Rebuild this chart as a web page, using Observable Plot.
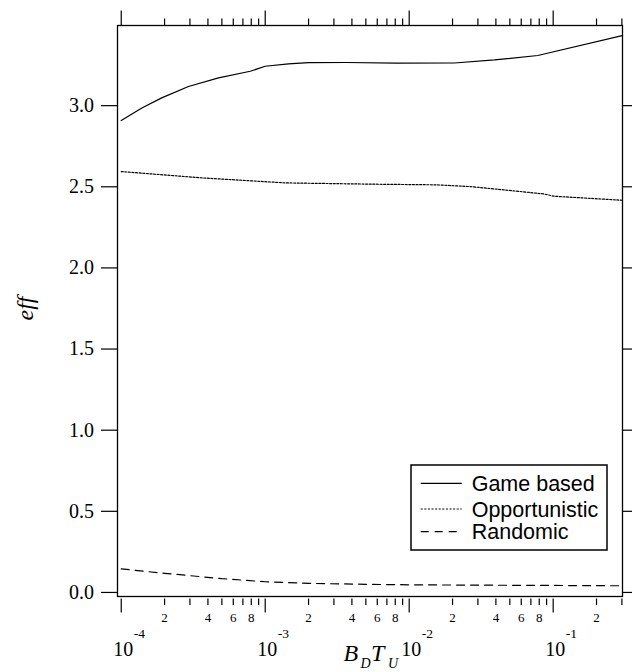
<!DOCTYPE html>
<html>
<head>
<meta charset="utf-8">
<script src="https://cdn.jsdelivr.net/npm/d3@7"></script>
<script src="https://cdn.jsdelivr.net/npm/@observablehq/plot@0.6"></script>
<style>
  body { margin: 0; background: #fff; }
  #wrap { position: relative; width: 635px; height: 672px; overflow: hidden; }
  #wrap > svg { position: absolute; left: 0; top: 0; }
</style>
</head>
<body>
<div id="wrap"></div>
<script>
// ---- data ----
const seriesNames = ["Game based", "Opportunistic", "Randomic"];

const gameX = [1e-4, 1.39e-4, 1.91e-4, 2.93e-4, 4.74e-4, 7.87e-4, 1e-3, 1.45e-3, 2e-3, 3.67e-3, 8.2e-3, 0.0206, 0.0391, 0.0782, 0.301];
const gameY = [2.908, 2.986, 3.048, 3.118, 3.171, 3.212, 3.243, 3.257, 3.265, 3.266, 3.262, 3.263, 3.282, 3.309, 3.432];

const oppX = [1e-4, 3.63e-4, 1.38e-3, 5.65e-3, 0.0156, 0.0267, 0.0454, 0.0861, 0.101, 0.301];
const oppY = [2.594, 2.555, 2.524, 2.516, 2.512, 2.501, 2.481, 2.456, 2.442, 2.417];

const randX = [1e-4, 2e-4, 5e-4, 1e-3, 2e-3, 5e-3, 1e-2, 3e-2, 0.1, 0.301];
const randY = [0.145, 0.118, 0.085, 0.066, 0.056, 0.050, 0.047, 0.045, 0.043, 0.041];

// ---- ticks ----
const yTicks = [0, 0.5, 1.0, 1.5, 2.0, 2.5, 3.0];
const xMajor = [1e-4, 1e-3, 1e-2, 1e-1];
const xMajorBase = ["10", "10", "10", "10"];
const xMajorExp = ["-4", "-3", "-2", "-1"];
const xMinor = [2e-4, 3e-4, 4e-4, 5e-4, 6e-4, 7e-4, 8e-4, 9e-4,
                2e-3, 3e-3, 4e-3, 5e-3, 6e-3, 7e-3, 8e-3, 9e-3,
                2e-2, 3e-2, 4e-2, 5e-2, 6e-2, 7e-2, 8e-2, 9e-2,
                2e-1, 3e-1];
const xMinorLabelValues = [2e-4, 4e-4, 6e-4, 8e-4, 2e-3, 4e-3, 6e-3, 8e-3, 2e-2, 4e-2, 6e-2, 8e-2, 2e-1];
const xMinorLabelTexts = ["2", "4", "6", "8", "2", "4", "6", "8", "2", "4", "6", "8", "2"];

const toRows = (xs, ys) => xs.map((x, i) => ({x, y: ys[i]}));
const game = toRows(gameX, gameY);
const opp = toRows(oppX, oppY);
const rand = toRows(randX, randY);

const serif = "Liberation Serif, Times New Roman, serif";
const sans = "Liberation Sans, Arial, Helvetica, sans-serif";
const lineStyles = [
  {strokeDasharray: null},
  {strokeDasharray: "2,1.6"},
  {strokeDasharray: "8,6"}
];
const lw = 1.2;

const chart = Plot.plot({
  width: 635,
  height: 672,
  marginLeft: 117,
  marginRight: 13,
  marginTop: 25,
  marginBottom: 76,
  style: {fontFamily: serif, color: "black", background: "white"},
  x: {type: "log", domain: [0.942e-4, 0.303], label: null},
  y: {domain: [-0.025, 3.494], label: null},
  marks: [
    // data lines
    Plot.line(game, {x: "x", y: "y", stroke: "black", strokeWidth: lw}),
    Plot.line(opp, {x: "x", y: "y", stroke: "black", strokeWidth: lw, strokeDasharray: lineStyles[1].strokeDasharray}),
    Plot.line(rand, {x: "x", y: "y", stroke: "black", strokeWidth: lw, strokeDasharray: lineStyles[2].strokeDasharray}),
    Plot.frame({stroke: "black", strokeWidth: 1.3}),
    // left y axis
    Plot.axisY(yTicks, {anchor: "left", tickSize: 16, tickPadding: 7.5, strokeWidth: lw, stroke: "black",
      tickFormat: d3.format(".1f"), fontSize: 20, fontFamily: serif, label: null}),
    // right y ticks
    Plot.axisY(yTicks, {anchor: "right", tickSize: 9, strokeWidth: lw, stroke: "black", fill: "none", label: null}),
    // top ticks
    Plot.axisX(xMajor, {anchor: "top", tickSize: 15.5, strokeWidth: lw, stroke: "black", fill: "none", label: null}),
    Plot.axisX(xMinor, {anchor: "top", tickSize: 7.5, strokeWidth: lw, stroke: "black", fill: "none", label: null}),
    // bottom ticks (slightly detached from the frame)
    Plot.axisX(xMajor, {anchor: "bottom", tickSize: 14, dy: 2.5, strokeWidth: lw, stroke: "black", fill: "none", label: null}),
    Plot.axisX(xMinor, {anchor: "bottom", tickSize: 6.5, dy: 2.5, strokeWidth: lw, stroke: "black", fill: "none", label: null}),
    // bottom minor labels
    Plot.text(xMinorLabelValues, {x: d => d, frameAnchor: "bottom", text: (d, i) => xMinorLabelTexts[i],
      lineAnchor: "bottom", textAnchor: "middle", dy: 25, fontSize: 13, fontFamily: serif, fill: "black"}),
    // bottom major labels: base "10"
    Plot.text(xMajor, {x: d => d, frameAnchor: "bottom", text: (d, i) => xMajorBase[i],
      lineAnchor: "bottom", textAnchor: "middle", dy: 59, dx: 2, fontSize: 20, fontFamily: serif, fill: "black"}),
    // bottom major labels: exponent
    Plot.text(xMajor, {x: d => d, frameAnchor: "bottom", text: (d, i) => xMajorExp[i],
      lineAnchor: "bottom", textAnchor: "start", dy: 41.5, dx: 12.5, fontSize: 13.5, fontFamily: serif, fill: "black"}),
    // y axis title
    Plot.text(["eff"], {frameAnchor: "left", text: d => d, dx: -92, dy: -2.5, rotate: -90,
      fontStyle: "italic", fontSize: 24, fontFamily: serif, lineAnchor: "middle", textAnchor: "middle", fill: "black"}),
    // x axis title B_D T_U
    Plot.text(["B"], {frameAnchor: "bottom", text: d => d, dx: -26.5, dy: 64.5, textAnchor: "start", lineAnchor: "bottom",
      fontStyle: "italic", fontSize: 24, fontFamily: serif, fill: "black"}),
    Plot.text(["D"], {frameAnchor: "bottom", text: d => d, dx: -9.5, dy: 71.5, textAnchor: "start", lineAnchor: "bottom",
      fontStyle: "italic", fontSize: 14, fontFamily: serif, fill: "black"}),
    Plot.text(["T"], {frameAnchor: "bottom", text: d => d, dx: 1, dy: 64.5, textAnchor: "start", lineAnchor: "bottom",
      fontStyle: "italic", fontSize: 24, fontFamily: serif, fill: "black"}),
    Plot.text(["U"], {frameAnchor: "bottom", text: d => d, dx: 18, dy: 71.5, textAnchor: "start", lineAnchor: "bottom",
      fontStyle: "italic", fontSize: 14, fontFamily: serif, fill: "black"})
  ]
});

const wrap = document.getElementById("wrap");
wrap.appendChild(chart);

// ---- legend (overlay) ----
const legend = d3.create("svg")
  .attr("width", 635).attr("height", 672)
  .style("position", "absolute").style("left", "0px").style("top", "0px")
  .style("pointer-events", "none");
const lg = legend.append("g").attr("transform", "translate(411,465)");
lg.append("rect").attr("x", 0).attr("y", 0).attr("width", 196).attr("height", 85)
  .attr("fill", "white").attr("stroke", "black").attr("stroke-width", 1.5);
const rowY = [18.3, 44, 66.7];
seriesNames.forEach((name, i) => {
  lg.append("line").attr("x1", 9.7).attr("x2", 50.7).attr("y1", rowY[i]).attr("y2", rowY[i])
    .attr("stroke", "black").attr("stroke-width", lw)
    .attr("stroke-dasharray", lineStyles[i].strokeDasharray);
  lg.append("text").attr("x", 60.7).attr("y", rowY[i]).attr("dy", "0.35em")
    .attr("font-family", sans).attr("font-size", 21.5).attr("fill", "black")
    .text(name);
});
wrap.appendChild(legend.node());
</script>
</body>
</html>
